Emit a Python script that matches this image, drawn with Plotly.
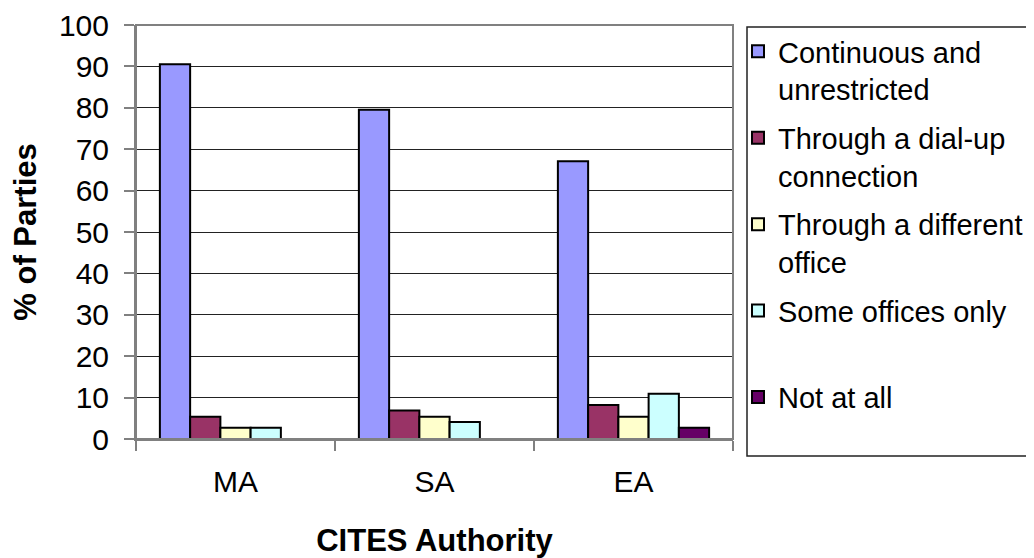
"""
Access to the internet by CITES authority (% of Parties).
"""

import plotly.graph_objects as go

AUTHORITIES = ["MA", "SA", "EA"]

SERIES_NAMES = [
    "Continuous and<br>unrestricted",
    "Through a dial-up<br>connection",
    "Through a different<br>office",
    "Some offices only<br> ",
    "Not at all<br> ",
]
CONTINUOUS = [90.5, 79.5, 67.1]
DIAL_UP = [5.4, 6.9, 8.2]
DIFFERENT_OFFICE = [2.7, 5.4, 5.4]
SOME_OFFICES = [2.7, 4.1, 10.9]
NOT_AT_ALL = [None, None, 2.7]

COLOURS = ["#9999FF", "#993366", "#FFFFCC", "#CCFFFF", "#660066"]

Y_TICKS = [0, 10, 20, 30, 40, 50, 60, 70, 80, 90, 100]

FONT = "Arial, Liberation Sans, sans-serif"

# the page body keeps its default 8px margin, so the figure is drawn 8px smaller
BODY_MARGIN = 8
WIDTH, HEIGHT = 1034 - BODY_MARGIN, 558 - BODY_MARGIN

# plot area in window pixels
LEFT, RIGHT, TOP, BOTTOM = 136, 733, 25, 439


def px_x(x):
    return (x - LEFT) / (RIGHT - LEFT)


def px_y(y):
    return (BOTTOM - y) / (BOTTOM - TOP)


def plot_internet_access() -> go.Figure:
    """Grouped bars, one group per CITES authority."""
    values = [CONTINUOUS, DIAL_UP, DIFFERENT_OFFICE, SOME_OFFICES, NOT_AT_ALL]

    fig = go.Figure()
    for i, (name, vals, colour) in enumerate(zip(SERIES_NAMES, values, COLOURS)):
        fig.add_trace(
            go.Bar(
                name=name,
                x=AUTHORITIES,
                y=vals,
                marker=dict(color=colour, line=dict(color="black", width=2)),
                legendgroup=f"g{i}",
            )
        )

    fig.update_layout(
        width=WIDTH,
        height=HEIGHT,
        margin=dict(
            l=LEFT - BODY_MARGIN,
            r=WIDTH - (RIGHT - BODY_MARGIN),
            t=TOP - BODY_MARGIN,
            b=HEIGHT - (BOTTOM - BODY_MARGIN),
            autoexpand=False,
        ),
        paper_bgcolor="white",
        plot_bgcolor="white",
        font=dict(family=FONT, size=29, color="black"),
        barmode="group",
        bargap=0.24,
        bargroupgap=0,
        showlegend=True,
        legend=dict(
            x=px_x(738),
            y=px_y(26),
            xanchor="left",
            yanchor="top",
            valign="top",
            traceorder="grouped",
            tracegroupgap=8,
            maxheight=600,
            font=dict(size=29),
            bgcolor="rgba(0,0,0,0)",
            borderwidth=0,
        ),
        xaxis=dict(
            title=dict(text="<b>CITES Authority</b>", font=dict(size=31), standoff=33),
            tickson="boundaries",
            ticks="outside",
            ticklen=10,
            tickcolor="#808080",
            tickwidth=2,
            showline=True,
            linecolor="#808080",
            linewidth=2,
            showgrid=False,
            tickfont=dict(size=30),
            ticklabelstandoff=15,
        ),
        yaxis=dict(
            title=dict(text="<b>% of Parties</b>", font=dict(size=31), standoff=16),
            range=[0, 100],
            tickvals=Y_TICKS,
            ticks="outside",
            ticklen=10,
            tickcolor="#808080",
            tickwidth=2,
            showline=True,
            linecolor="#808080",
            linewidth=2,
            showgrid=True,
            gridcolor="#222222",
            gridwidth=1,
            zeroline=False,
            tickfont=dict(size=30),
            ticklabelstandoff=9,
        ),
    )

    # plot area border (top and right in grey) and legend frame
    fig.add_shape(
        type="rect", xref="paper", yref="paper", x0=0, x1=1, y0=0, y1=1,
        line=dict(color="#808080", width=2), layer="above",
    )
    fig.add_shape(
        type="rect", xref="paper", yref="paper",
        x0=px_x(747), x1=px_x(1032), y0=px_y(456), y1=px_y(27),
        line=dict(color="#222222", width=1.5),
    )
    return fig


fig = plot_internet_access()
fig.write_html("out.html")
